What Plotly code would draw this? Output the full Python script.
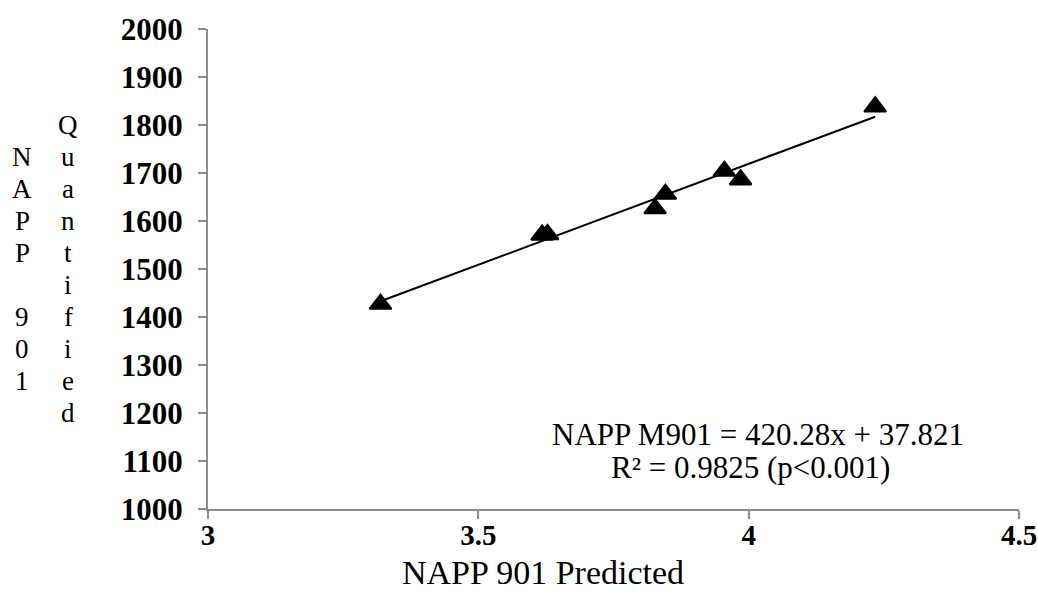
import plotly.graph_objects as go

# Data
predicted = [3.319, 3.618, 3.628, 3.827, 3.846, 3.955, 3.985, 4.234]
quantified = [1427, 1571, 1572, 1626, 1656, 1704, 1686, 1838]

slope = 420.28
intercept = 37.821

x_ticks = [3, 3.5, 4, 4.5]
y_ticks = [1000, 1100, 1200, 1300, 1400, 1500, 1600, 1700, 1800, 1900, 2000]

title_col1 = "NAPP 901"
title_col2 = "Quantified"
x_title = "NAPP 901 Predicted"
eq_line1 = "NAPP M901 = 420.28x + 37.821"
eq_line2 = "R² = 0.9825 (p<0.001)"

SERIF = "Liberation Serif"
AXIS_COLOR = "#8c8c8c"

x_line = [min(predicted), max(predicted)]
y_line = [slope * v + intercept for v in x_line]

fig = go.Figure()
fig.add_trace(go.Scatter(x=x_line, y=y_line, mode="lines",
                         line=dict(color="black", width=2), showlegend=False,
                         hoverinfo="skip"))
fig.add_trace(go.Scatter(x=predicted, y=quantified, mode="markers",
                         marker=dict(symbol="triangle-up", size=19, color="black",
                                     line=dict(color="black", width=2)),
                         showlegend=False))

fig.update_layout(
    width=1038, height=592,
    margin=dict(l=208, r=19, t=29, b=83),
    paper_bgcolor="white", plot_bgcolor="white",
    font=dict(family=SERIF, color="black"),
)
fig.update_xaxes(range=[3, 4.5], tickvals=x_ticks, ticktext=[str(v) for v in x_ticks],
                 showgrid=False, zeroline=False, showline=True, linecolor=AXIS_COLOR,
                 linewidth=2, ticks="outside", ticklen=8, tickcolor=AXIS_COLOR, tickwidth=2,
                 automargin=False, ticklabelstandoff=-9,
                 tickfont=dict(family=SERIF, size=29, color="black", weight="bold"))
fig.update_yaxes(range=[1000, 2000], tickvals=y_ticks, ticktext=[str(v) for v in y_ticks],
                 showgrid=False, zeroline=False, showline=True, linecolor=AXIS_COLOR,
                 linewidth=2, ticks="outside", ticklen=8, tickcolor=AXIS_COLOR, tickwidth=2,
                 automargin=False, ticklabelstandoff=9,
                 tickfont=dict(family=SERIF, size=31, color="black", weight="bold"))

# stacked (vertical) y-axis title, two columns, one character per line, 32px apart
def add_column(text, x_px, center_px=269, step=32):
    n = len(text)
    for i, ch in enumerate(text):
        if ch == " ":
            continue
        y_px = center_px + (i - (n - 1) / 2) * step
        fig.add_annotation(text=ch, xref="paper", yref="paper",
                           x=(x_px - 208) / 811, y=(509 - y_px) / 480,
                           xanchor="center", yanchor="middle", showarrow=False,
                           font=dict(family=SERIF, size=27, color="black"))

add_column(title_col1, 22)
add_column(title_col2, 68)

fig.add_annotation(text=x_title, xref="paper", yref="paper",
                   x=(543 - 208) / 811, y=(509 - 572) / 480, xanchor="center", yanchor="middle",
                   showarrow=False, font=dict(family=SERIF, size=34, color="black"))
fig.add_annotation(text=eq_line1, xref="paper", yref="paper",
                   x=(758 - 208) / 811, y=(509 - 434) / 480, xanchor="center", yanchor="middle",
                   showarrow=False, font=dict(family=SERIF, size=31, color="black"))
fig.add_annotation(text=eq_line2, xref="paper", yref="paper",
                   x=(750 - 208) / 811, y=(509 - 467) / 480, xanchor="center", yanchor="middle",
                   showarrow=False, font=dict(family=SERIF, size=31, color="black"))

# remove the default page margin so the figure fills the window exactly
fig.write_html("out.html",
               config={"displayModeBar": False},
               post_script="document.body.style.margin='0';document.body.style.overflow='hidden';")
